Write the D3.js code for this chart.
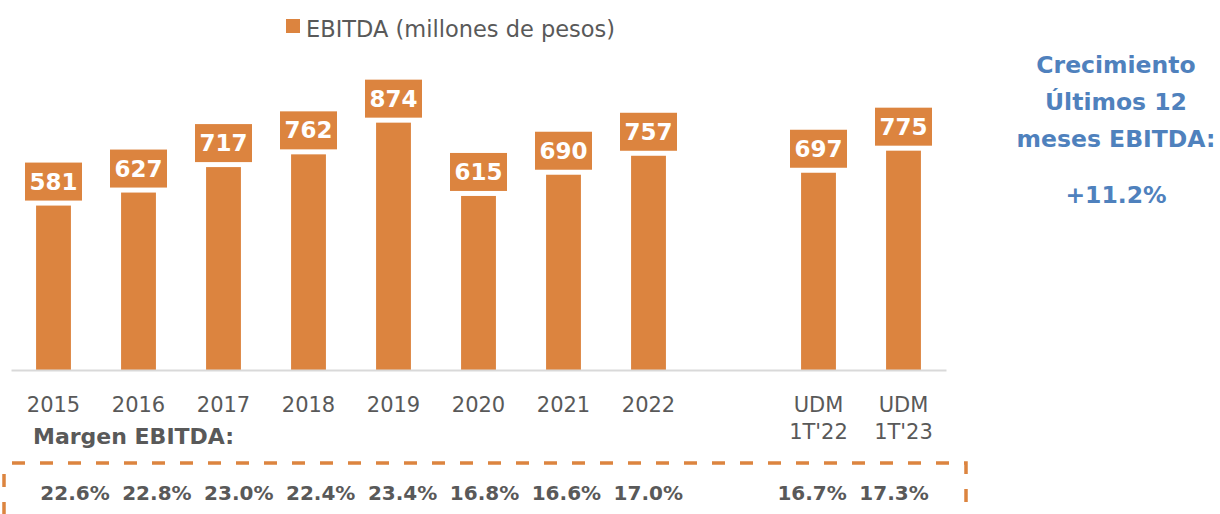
<!DOCTYPE html>
<html>
<head>
<meta charset="utf-8">
<script src="https://cdn.jsdelivr.net/npm/d3@7"></script>
<style>
    body { margin: 0; background: #fff; }
    svg { display: block; font-family: "DejaVu Sans", sans-serif; }
    .tick text { fill: #595959; font-size: 21px; font-family: "DejaVu Sans", sans-serif; }
    .bar-label { fill: #fff; font-size: 23px; font-weight: bold; text-anchor: middle; }
    .margin-label { fill: #595959; font-size: 20px; font-weight: bold; text-anchor: middle; }
    .side-text { fill: #4f81bd; font-size: 23.5px; font-weight: bold; text-anchor: middle; }
</style>
</head>
<body>
<div id="chart"></div>
<script>
// data
const categories = ["2015", "2016", "2017", "2018", "2019", "2020", "2021", "2022", "", "UDM|1T'22", "UDM|1T'23"];
const ebitda = [581, 627, 717, 762, 874, 615, 690, 757, null, 697, 775];
const margins = ["22.6%", "22.8%", "23.0%", "22.4%", "23.4%", "16.8%", "16.6%", "17.0%", "", "16.7%", "17.3%"];
const sideLines = ["Crecimiento", "Últimos 12", "meses EBITDA:"];
const growth = "+11.2%";

const orange = "#dc843f";
const width = 1220, height = 514;
const baseY = 370;

const svg = d3.select("#chart")
    .append("svg")
    .attr("width", width)
    .attr("height", height);

// Scales
const xScale = d3.scaleBand().domain(categories).range([11, 946]).paddingInner(0.59).paddingOuter(0.295);
const yScale = d3.scaleLinear().domain([0, 1000]).range([baseY, 87]);
// margin text sits on its own evenly spaced row
const marginX = d3.scalePoint().domain(d3.range(categories.length)).range([75, 894]);

const dataset = categories.map((c, i) => ({ cat: c, value: ebitda[i], margin: margins[i] }))
const barData = dataset.filter(d => d.value !== null);

// bars
svg.selectAll(".bar")
    .data(barData)
    .enter()
    .append("rect")
    .attr("class", "bar")
    .attr("x", d => xScale(d.cat))
    .attr("y", d => yScale(d.value))
    .attr("width", xScale.bandwidth())
    .attr("height", d => baseY - yScale(d.value))
    .attr("fill", orange);

// value boxes
const boxW = 57, boxH = 38;
svg.selectAll(".label-box")
    .data(barData)
    .enter()
    .append("rect")
    .attr("class", "label-box")
    .attr("x", d => xScale(d.cat) + xScale.bandwidth() / 2 - boxW / 2)
    .attr("y", d => yScale(d.value) - 5 - boxH)
    .attr("width", boxW)
    .attr("height", boxH)
    .attr("fill", orange);

svg.selectAll(".bar-label")
    .data(barData)
    .enter()
    .append("text")
    .attr("class", "bar-label")
    .attr("x", d => xScale(d.cat) + xScale.bandwidth() / 2)
    .attr("y", d => yScale(d.value) - 5 - boxH / 2 + 8)
    .text(d => d.value);

// x axis
const xAxis = d3.axisBottom(xScale).tickSize(0).tickSizeOuter(0).tickPadding(27);
const axisG = svg.append("g")
    .attr("transform", "translate(0," + baseY + ")")
    .call(xAxis);
axisG.select(".domain").attr("stroke", "#d9d9d9").attr("stroke-width", 2);
axisG.selectAll(".tick text")
    .text(null)
    .each(function (d) {
        const parts = d.split("|");
        const t = d3.select(this);
        parts.forEach((p, i) => {
            t.append("tspan").attr("x", 0).attr("dy", i === 0 ? "0.71em" : "1.28em").text(p);
        });
    })
    .attr("dy", null);

// legend
svg.append("rect").attr("x", 286).attr("y", 19).attr("width", 14).attr("height", 14).attr("fill", orange);
svg.append("text")
    .attr("x", 306).attr("y", 37)
    .attr("fill", "#595959").attr("font-size", 22.5)
    .text("EBITDA (millones de pesos)");

// margin row
svg.append("text")
    .attr("x", 33).attr("y", 444)
    .attr("fill", "#595959").attr("font-size", 22).attr("font-weight", "bold")
    .text("Margen EBITDA:");

svg.append("rect")
    .attr("x", 4).attr("y", 463)
    .attr("width", 962).attr("height", 90)
    .attr("fill", "none")
    .attr("stroke", orange)
    .attr("stroke-width", 3.5)
    .attr("stroke-dasharray", "13,15")
    .attr("stroke-dashoffset", -8);

svg.selectAll(".margin-label")
    .data(dataset)
    .enter()
    .append("text")
    .attr("class", "margin-label")
    .attr("x", (d, i) => marginX(i))
    .attr("y", 500)
    .text(d => d.margin);

// growth note on the right
svg.selectAll(".side-text")
    .data(sideLines)
    .enter()
    .append("text")
    .attr("class", "side-text")
    .attr("x", 1116)
    .attr("y", (d, i) => 73 + i * 37)
    .text(d => d);

svg.append("text")
    .attr("class", "side-text")
    .attr("x", 1116).attr("y", 203)
    .text(growth);
</script>
</body>
</html>
